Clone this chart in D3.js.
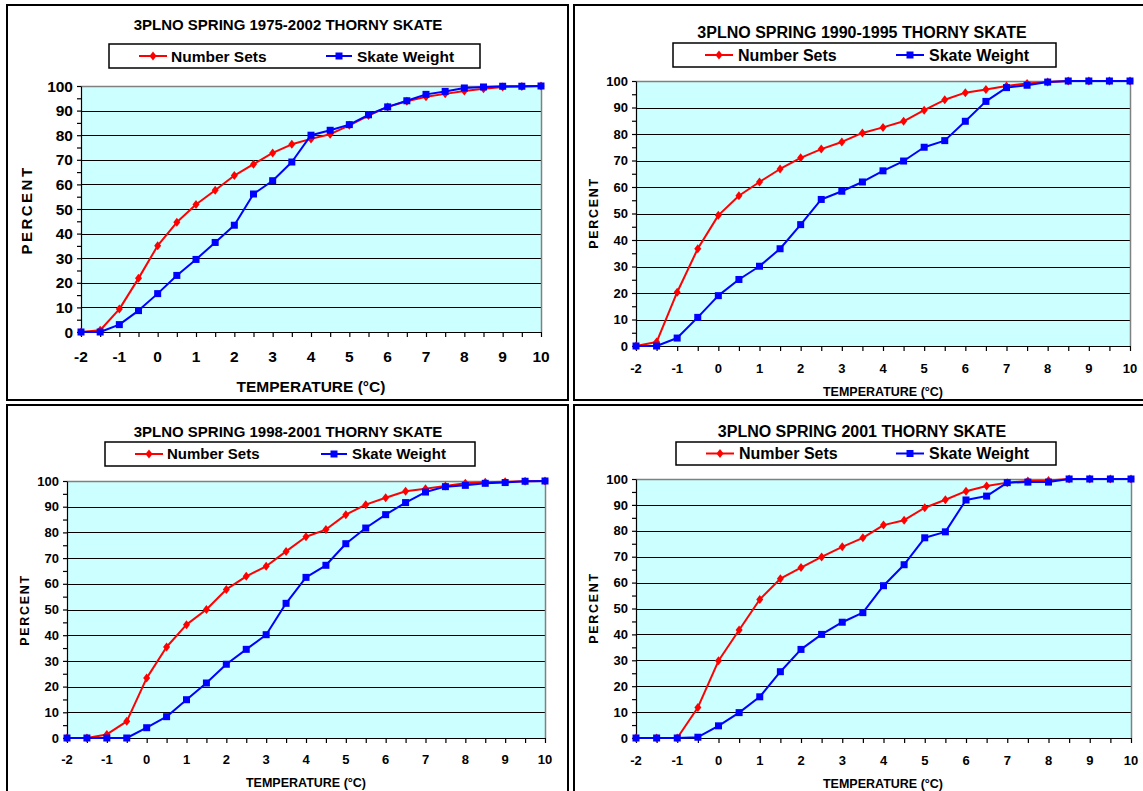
<!DOCTYPE html>
<html><head><meta charset="utf-8">
<script src="https://cdn.jsdelivr.net/npm/d3@7"></script>
<style>
body{margin:0;background:#fff}
svg{display:block}
text{font-family:"Liberation Sans",Arial,sans-serif;font-weight:bold;fill:#000}
</style>
</head><body>
<svg id="chart" width="1143" height="791"></svg>
<script>
// ---------- DATA ----------
const temps = [-2,-1.5,-1,-0.5,0,0.5,1,1.5,2,2.5,3,3.5,4,4.5,5,5.5,6,6.5,7,7.5,8,8.5,9,9.5,10];
const xTickLabels = [-2,-1,0,1,2,3,4,5,6,7,8,9,10];
const yTickLabels = [0,10,20,30,40,50,60,70,80,90,100];
const seriesNames = ["Number Sets","Skate Weight"];
const chartTitles = [
  "3PLNO SPRING 1975-2002 THORNY SKATE",
  "3PLNO SPRING 1990-1995 THORNY SKATE",
  "3PLNO SPRING 1998-2001 THORNY SKATE",
  "3PLNO SPRING 2001 THORNY SKATE"
];
const xAxisTitle = "TEMPERATURE (°C)";
const yAxisTitle = "PERCENT";

const sets1975_2002   = [0,0.7,9.3,21.8,35.1,44.6,51.8,57.6,63.6,68.2,72.8,76.3,78.5,80.4,84,88,91.5,93.8,95.6,96.8,98,98.9,99.6,99.8,100];
const weight1975_2002 = [0,0,3,8.7,15.6,23,29.5,36.4,43.4,56.1,61.5,69.1,80,82,84.3,88.3,91.5,94,96.6,97.8,99.2,99.6,99.9,99.9,100];

const sets1990_1995   = [0,1.5,20.3,36.7,49.3,56.7,61.9,66.8,71,74.3,77,80.4,82.5,84.8,89,92.9,95.6,96.8,98.1,99.1,99.6,100,100,100,100];
const weight1990_1995 = [0,0,3,10.8,19,25.1,30.1,36.7,45.8,55.3,58.4,61.9,66.1,69.8,75,77.5,84.8,92.3,97.5,98.4,99.6,100,100,100,100];

const sets1998_2001   = [0,0,1.4,6.5,23.3,35.4,44.1,50,57.8,62.9,66.8,72.6,78.3,81.1,86.9,90.8,93.5,96,97,98.1,99.1,99.5,99.7,99.9,100];
const weight1998_2001 = [0,0,0,0,4,8.3,14.9,21.4,28.7,34.5,40.2,52.4,62.5,67.2,75.6,81.7,86.9,91.6,95.7,97.8,98.3,99.1,99.4,99.9,100];

const sets2001   = [0,0,0,11.8,29.8,41.7,53.5,61.5,65.8,69.9,73.8,77.3,82.2,84.1,88.9,92,95.3,97.3,98.6,99.2,99.4,100,100,100,100];
const weight2001 = [0,0,0,0.3,4.7,9.8,15.9,25.6,34.2,40,44.7,48.4,58.8,66.9,77.3,79.6,91.9,93.4,98.6,98.8,98.8,100,100,100,100];

const panelSeries = [
  [sets1975_2002, weight1975_2002],
  [sets1990_1995, weight1990_1995],
  [sets1998_2001, weight1998_2001],
  [sets2001, weight2001]
];

// ---------- LAYOUT (styling only) ----------
const layouts = [
  {box:[7,5,561,395], pl:81, pr:541, pt:86, pb:332, title:{x:288,y:30,s:15},
   leg:{x:109,y:44,w:371,h:24,l1:[139,167],t1:171,l2:[326,352],t2:357,s:15.5},
   tick:15.5, xl:362, xt:{x:311,y:392,s:15.5}, yt:{x:27,y:210,s:15,sp:2.5}},
  {box:[574,5,590,395], pl:636, pr:1130, pt:81, pb:346, title:{x:862,y:38,s:16},
   leg:{x:673,y:43,w:383,h:24,l1:[705,733],t1:738,l2:[896,924],t2:929,s:16},
   tick:13, xl:373, xt:{x:883,y:396,s:12.5}, yt:{x:593,y:213,s:12.5,sp:1.7}},
  {box:[7,405,561,395], pl:67, pr:545, pt:481, pb:738, title:{x:288,y:437,s:15},
   leg:{x:105,y:442,w:370,h:24,l1:[135,163],t1:167,l2:[321,347],t2:352,s:15},
   tick:13, xl:764, xt:{x:306,y:787,s:12.5}, yt:{x:24,y:610,s:12.5,sp:1.7}},
  {box:[574,405,590,395], pl:636, pr:1131, pt:479, pb:738, title:{x:862,y:437,s:16},
   leg:{x:676,y:442,w:380,h:23,l1:[706,734],t1:739,l2:[896,924],t2:929,s:16},
   tick:13, xl:765, xt:{x:883,y:788,s:12.5}, yt:{x:593,y:608,s:12.5,sp:1.7}}
];
const colors = ["#ff0000","#0000ff"];

const svg = d3.select("#chart");

function marker(sel, i, cx, cy){
  if(i===0){
    sel.append("path").attr("d",`M${cx},${cy-4.5}L${cx+3.5},${cy}L${cx},${cy+4.5}L${cx-3.5},${cy}Z`)
      .attr("fill",colors[0]);
  } else {
    sel.append("rect").attr("x",cx-3.5).attr("y",cy-3.5).attr("width",7).attr("height",7)
      .attr("fill",colors[1]);
  }
}

layouts.forEach((L,p)=>{
  const g = svg.append("g");
  const [bx,by,bw,bh] = L.box;
  g.append("rect").attr("x",bx).attr("y",by).attr("width",bw).attr("height",bh)
    .attr("fill","#fff").attr("stroke","#000").attr("stroke-width",2);

  const x = d3.scaleLinear().domain([-2,10]).range([L.pl,L.pr]);
  const y = d3.scaleLinear().domain([0,100]).range([L.pb,L.pt]);

  // plot area
  g.append("rect").attr("x",L.pl).attr("y",L.pt).attr("width",L.pr-L.pl).attr("height",L.pb-L.pt)
    .attr("fill","#ccffff");
  // gridlines
  g.selectAll(".grid").data(yTickLabels.filter(v=>v>0&&v<100)).enter().append("line")
    .attr("x1",L.pl).attr("x2",L.pr).attr("y1",d=>Math.round(y(d))+0.5).attr("y2",d=>Math.round(y(d))+0.5)
    .attr("stroke","#000").attr("stroke-width",1);
  // top & right border
  g.append("path").attr("d",`M${L.pl},${L.pt+0.5}H${L.pr+0.5}V${L.pb}`)
    .attr("fill","none").attr("stroke","#808080").attr("stroke-width",1.5);

  // y axis: minor ticks every 5
  const yMinor = yTickLabels.flatMap(v=>v<100?[v,v+5]:[v]);
  const ya = g.append("g").attr("transform",`translate(${L.pl},0)`)
    .call(d3.axisLeft(y).tickValues(yMinor).tickSize(4).tickSizeOuter(0).tickFormat(""));
  ya.selectAll("path,line").attr("stroke","#000").attr("stroke-width",1.2);
  g.selectAll(".ylab").data(yTickLabels).enter().append("text")
    .attr("x",L.pl-8).attr("y",d=>y(d)).attr("dy","0.36em").attr("text-anchor","end")
    .attr("font-size",L.tick).text(d=>d);

  // x axis: ticks every 0.5
  const xa = g.append("g").attr("transform",`translate(0,${L.pb})`)
    .call(d3.axisBottom(x).tickValues(temps).tickSize(5).tickSizeOuter(0).tickFormat(""));
  xa.selectAll("path,line").attr("stroke","#000").attr("stroke-width",1.2);
  g.selectAll(".xlab").data(xTickLabels).enter().append("text")
    .attr("x",d=>x(d)).attr("y",L.xl).attr("text-anchor","middle")
    .attr("font-size",L.tick).text(d=>d);

  // series
  const line = d3.line().x((d,i)=>x(temps[i])).y(d=>y(d));
  panelSeries[p].forEach((vals,i)=>{
    const sg = g.append("g");
    sg.append("path").datum(vals).attr("d",line).attr("fill","none")
      .attr("stroke",colors[i]).attr("stroke-width",2).attr("stroke-linejoin","round");
    vals.forEach((v,k)=>marker(sg,i,x(temps[k]),y(v)));
  });

  // title
  g.append("text").attr("x",L.title.x).attr("y",L.title.y).attr("text-anchor","middle")
    .attr("font-size",L.title.s).text(chartTitles[p]);

  // legend
  const lg = L.leg;
  g.append("rect").attr("x",lg.x).attr("y",lg.y).attr("width",lg.w).attr("height",lg.h)
    .attr("fill","#fff").attr("stroke","#000").attr("stroke-width",1.5);
  const cy = lg.y + lg.h/2;
  [[lg.l1,lg.t1],[lg.l2,lg.t2]].forEach(([ln,tx],i)=>{
    g.append("line").attr("x1",ln[0]).attr("x2",ln[1]).attr("y1",cy).attr("y2",cy)
      .attr("stroke",colors[i]).attr("stroke-width",2);
    marker(g,i,(ln[0]+ln[1])/2,cy);
    g.append("text").attr("x",tx).attr("y",cy).attr("dy","0.36em")
      .attr("font-size",lg.s).text(seriesNames[i]);
  });

  // axis titles
  g.append("text").attr("x",L.xt.x).attr("y",L.xt.y).attr("text-anchor","middle")
    .attr("font-size",L.xt.s).text(xAxisTitle);
  g.append("text").attr("transform",`translate(${L.yt.x},${L.yt.y}) rotate(-90)`)
    .attr("text-anchor","middle").attr("dy","0.36em").attr("font-size",L.yt.s)
    .attr("letter-spacing",L.yt.sp).text(yAxisTitle);
});
</script>
</body></html>
